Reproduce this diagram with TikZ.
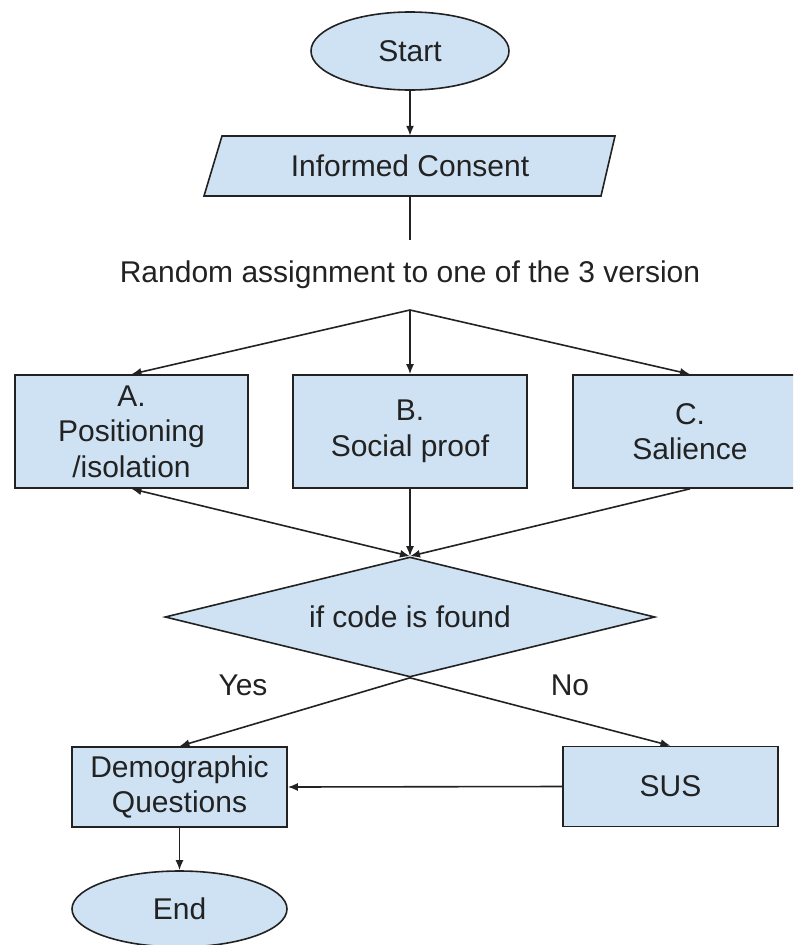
\documentclass[tikz,border=0pt]{standalone}
\usepackage{fontspec}
\setmainfont{Liberation Sans}
\usetikzlibrary{shapes.geometric,arrows.meta}
\definecolor{boxfill}{HTML}{CFE2F3}
\definecolor{ink}{HTML}{222222}
\begin{document}
\begin{tikzpicture}[x=1pt,y=-1pt,
  every node/.style={font=\fontsize{30}{35.5}\selectfont, text=ink},
  arr/.tip={Latex[length=10pt,width=8pt]},
  shapebox/.style={draw=ink, fill=boxfill, line width=1.6pt},
  procbox/.style={shapebox, rectangle, minimum width=234pt, minimum height=113pt, align=center, inner sep=0pt},
  smallbox/.style={shapebox, rectangle, minimum width=215pt, minimum height=80pt, align=center, inner sep=0pt},
  termnode/.style={shapebox, ellipse, inner sep=0pt},
  flow/.style={draw=ink, line width=1.6pt, -arr},
  plainline/.style={draw=ink, line width=1.6pt},
]
\useasboundingbox (0,0) rectangle (793,945);
\clip (0,0) rectangle (793,945);

% Start
\node (start) [termnode, minimum width=198pt, minimum height=78pt] at (410,51) {Start};

% Informed consent (parallelogram)
\path[shapebox] (222,136) -- (615,136) -- (601,196) -- (204,196) -- cycle;
\node (consent) [minimum width=395pt, minimum height=60pt, inner sep=0pt] at (410,166) {Informed Consent};

\coordinate (c1) at (410,240);
\node (rand) [inner sep=0pt] at (410,275) {Random assignment to one of the 3 version};
\coordinate (sp) at (410,310);

% Versions
\node (A) [procbox, minimum width=233pt] at (131.5,431.5) {A.\\Positioning\\/isolation};
\node (B) [procbox] at (410,431.5) {B.\\Social proof};
\node (C) [procbox] at (690,431.5) {C.\\Salience};

% Decision
\node (dec) [shapebox, diamond, aspect=4.08, minimum width=490pt, minimum height=120pt, inner sep=0pt] at (410,617) {if code is found};

\node (yes) at (243,685) {Yes};
\node (no) at (570,685) {No};

\node (demo) [smallbox] at (179.5,787) {Demographic\\Questions};
\node (sus) [smallbox] at (670.5,786.5) {SUS};
\node (end) [termnode, minimum width=215pt, minimum height=76pt] at (179.5,909) {End};

% Connectors
\draw[flow] (start) -- (consent);
\draw[plainline] (consent) -- (c1);
\draw[flow] (sp) -- (A.north);
\draw[flow] (sp) -- (B.north);
\draw[flow] (sp) -- (C.north);
\draw[flow, arr-arr] (A.south) -- (dec.north);
\draw[flow] (B.south) -- (dec.north);
\draw[flow] (C.south) -- (dec.north);
\draw[flow] (dec.south) -- (demo.north);
\draw[flow] (dec.south) -- (sus.north);
\draw[flow] (sus.west) -- (demo.east);
\draw[flow] (demo.south) -- (end.north);
\end{tikzpicture}
\end{document}
